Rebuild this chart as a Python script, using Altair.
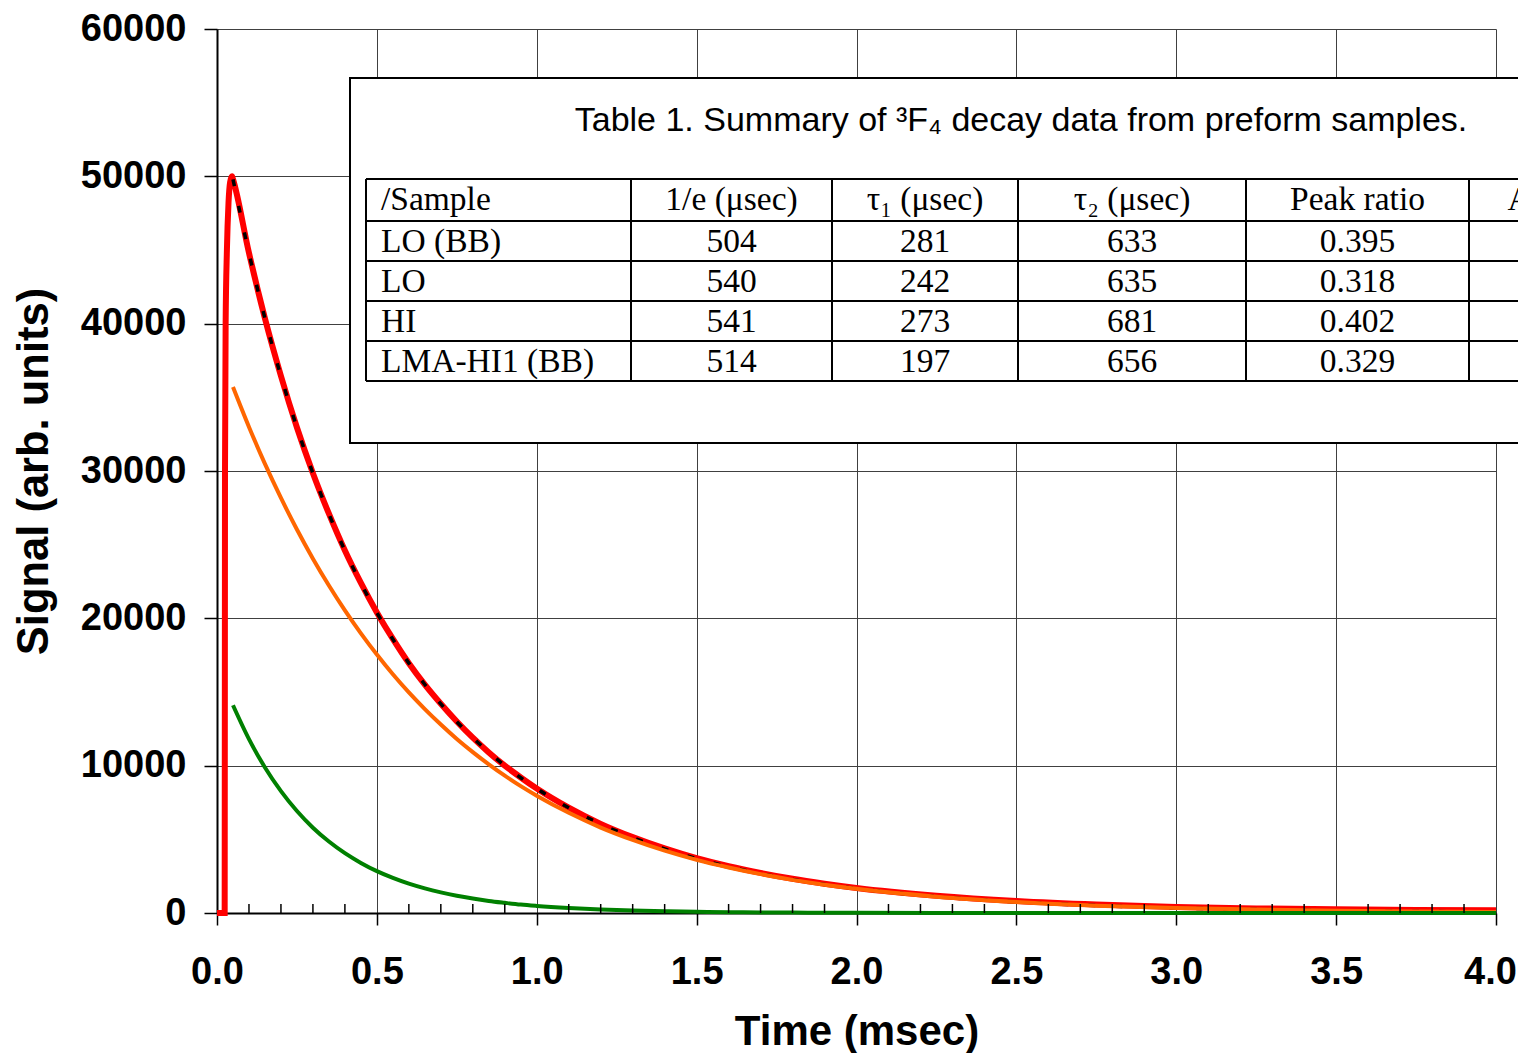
import altair as alt
import pandas as pd

# ---------------- data ----------------
# measured signal (red)
time_data = [0.0, 0.024, 0.025, 0.027, 0.031, 0.036, 0.041, 0.047,
             0.05, 0.10, 0.15, 0.20, 0.25, 0.30, 0.35, 0.40, 0.45, 0.50,
             0.55, 0.60, 0.65, 0.70, 0.75, 0.80, 0.85, 0.90, 0.95, 1.00,
             1.1, 1.2, 1.3, 1.4, 1.5, 1.6, 1.7, 1.8, 1.9, 2.0,
             2.25, 2.5, 2.75, 3.0, 3.25, 3.5, 3.75, 4.0]
signal_data = [0, 0, 30000, 40000, 45000, 48200, 49600, 50000,
               49800, 44800, 40350, 36450, 32950, 29850, 27100, 24600, 22400, 20400,
               18600, 16950, 15500, 14200, 13000, 11900, 10900, 10000, 9200, 8450,
               7150, 6050, 5150, 4380, 3720, 3180, 2720, 2320, 1990, 1700,
               1170, 810, 570, 410, 310, 250, 210, 190]

# fitted curves (black dashed = total, orange = slow, green = fast)
time_fit = [0.05, 0.10, 0.15, 0.20, 0.25, 0.30, 0.35, 0.40, 0.45, 0.50,
            0.55, 0.60, 0.65, 0.70, 0.75, 0.80, 0.85, 0.90, 0.95, 1.00,
            1.1, 1.2, 1.3, 1.4, 1.5, 1.6, 1.7, 1.8, 1.9, 2.0,
            2.25, 2.5, 2.75, 3.0, 3.25, 3.5, 3.75, 4.0]
fit_total = [49800, 44790, 40360, 36440, 32950, 29840, 27080, 24600, 22380, 20380,
             18580, 16960, 15510, 14190, 12980, 11900, 10910, 10010, 9180, 8440,
             7140, 6035, 5125, 4345, 3690, 3147, 2680, 2278, 1939, 1654,
             1116, 753, 501, 340, 230, 155, 105, 70]
fit_slow = [35700, 32990, 30480, 28170, 26030, 24050, 22230, 20540, 18980, 17540,
            16200, 14970, 13840, 12790, 11810, 10920, 10090, 9320, 8610, 7960,
            6800, 5800, 4960, 4230, 3610, 3090, 2640, 2250, 1920, 1640,
            1110, 750, 500, 340, 230, 155, 105, 70]
fit_fast = [14100, 11800, 9880, 8270, 6920, 5790, 4850, 4060, 3400, 2840,
            2380, 1990, 1670, 1400, 1170, 980, 820, 690, 570, 480,
            340, 235, 165, 115, 80, 57, 40, 28, 19, 14,
            6, 3, 1, 0, 0, 0, 0, 0]

x_tick_values = [0.0, 0.5, 1.0, 1.5, 2.0, 2.5, 3.0, 3.5, 4.0]
y_tick_values = [0, 10000, 20000, 30000, 40000, 50000, 60000]
minor_ticks = [0.1, 0.2, 0.3, 0.4, 0.6, 0.7, 0.8, 0.9, 1.1, 1.2, 1.3, 1.4,
               1.6, 1.7, 1.8, 1.9, 2.1, 2.2, 2.3, 2.4, 2.6, 2.7, 2.8, 2.9,
               3.1, 3.2, 3.3, 3.4, 3.6, 3.7, 3.8, 3.9]

# inset table
table_title = "Table 1. Summary of \u00b3F\u2084 decay data from preform samples."
headers = ["/Sample", "1/e (\u03bcsec)", "\u03c4\u2081 (\u03bcsec)", "\u03c4\u2082 (\u03bcsec)",
           "Peak ratio", "Amp. ratio"]
samples = ["LO (BB)", "LO", "HI", "LMA-HI1 (BB)"]
one_e = ["504", "540", "541", "514"]
tau1 = ["281", "242", "273", "197"]
tau2 = ["633", "635", "681", "656"]
peak_ratio = ["0.395", "0.318", "0.402", "0.329"]

# ---------------- layout ----------------
W, H = 1279, 884
X_MAX, Y_MAX = 4.0, 60000
SANS = "Liberation Sans"
SERIF = "Liberation Serif"
XT = "Time (msec)"
YT = "Signal (arb. units)"


# table layout is given in pixels inside the plot area and converted to axis units
def tx(px):
    return px / W * X_MAX


def ty(py):
    return Y_MAX * (1 - py / H)


col_edges = [149, 414, 615, 801, 1029, 1252]
col_centers = [None, 514.5, 708, 915, 1140.5, 1363]
row_lines = [150, 192, 232, 272, 312, 352]
row_baselines = [181, 223, 263, 303, 343]
TABLE_RIGHT = 1400

xs = alt.Scale(domain=[0, X_MAX], nice=False, zero=False)
ys = alt.Scale(domain=[0, Y_MAX], nice=False)

x_axis = alt.Axis(
    values=x_tick_values, format=".1f", grid=True, gridColor="#404040", gridWidth=1,
    tickSize=12, tickColor="black", tickWidth=1.5, domainColor="black", domainWidth=2,
    labelFont=SANS, labelFontSize=38, labelFontWeight="bold", labelColor="black",
    labelPadding=28, labelFlush=False, labelOverlap=False,
    labelOffset={"condition": {"test": "datum.value == 4", "value": -6}, "value": 0},
    titleFont=SANS, titleFontSize=42, titleFontWeight="bold", titleColor="black",
    titleX=W / 2, titleY=131, titleAlign="center", titleBaseline="alphabetic",
)
y_axis = alt.Axis(
    values=y_tick_values, format="d", grid=True, gridColor="#404040", gridWidth=1,
    tickSize=13, tickColor="black", tickWidth=1.5, domainColor="black", domainWidth=2,
    labelFont=SANS, labelFontSize=38, labelFontWeight="bold", labelColor="black",
    labelPadding=18, labelFlush=False, labelOverlap=False,
    titleFont=SANS, titleFontSize=43.5, titleFontWeight="bold", titleColor="black",
    titlePadding=24,
)

df_data = pd.DataFrame({"t": time_data, "v": signal_data})
df_fit = pd.DataFrame({"t": time_fit, "total": fit_total, "slow": fit_slow, "fast": fit_fast})

data_line = alt.Chart(df_data).mark_line(
    color="#FF0000", strokeWidth=6, interpolate="monotone"
).encode(
    x=alt.X("t:Q", scale=xs, axis=x_axis, title=XT),
    y=alt.Y("v:Q", scale=ys, axis=y_axis, title=YT),
)


def fit_line(field, color, width, dash=None):
    kw = dict(color=color, strokeWidth=width, interpolate="monotone")
    if dash:
        kw["strokeDash"] = dash
    return alt.Chart(df_fit).mark_line(**kw).encode(
        x=alt.X("t:Q", scale=xs, title=XT),
        y=alt.Y(f"{field}:Q", scale=ys, title=YT),
    )


total_line = fit_line("total", "black", 3.5, [7, 20])
slow_line = fit_line("slow", "#FF6600", 4)
fast_line = fit_line("fast", "#008000", 4)

minor = alt.Chart(pd.DataFrame({"t": minor_ticks})).mark_rule(
    color="black", strokeWidth=1.5
).encode(
    x=alt.X("t:Q", scale=xs, title=XT),
    y=alt.value(H), y2=alt.value(H - 9),
)


def pos_enc():
    return dict(
        x=alt.X("x:Q", scale=xs, title=XT),
        y=alt.Y("y:Q", scale=ys, title=YT),
    )


# ---- inset table ----
box = alt.Chart(pd.DataFrame({"x": [tx(133)], "x2": [tx(TABLE_RIGHT)],
                              "y": [ty(49)], "y2": [ty(414)]})).mark_rect(
    fill="white", stroke="black", strokeWidth=2
).encode(x2="x2:Q", y2="y2:Q", **pos_enc())

hl = pd.DataFrame({"x": [tx(col_edges[0])] * len(row_lines),
                   "x2": [tx(TABLE_RIGHT)] * len(row_lines),
                   "y": [ty(r) for r in row_lines], "y2": [ty(r) for r in row_lines]})
vl = pd.DataFrame({"x": [tx(c) for c in col_edges], "x2": [tx(c) for c in col_edges],
                   "y": [ty(row_lines[0])] * len(col_edges),
                   "y2": [ty(row_lines[-1])] * len(col_edges)})
grid_lines = alt.Chart(pd.concat([hl, vl], ignore_index=True)).mark_rule(
    color="black", strokeWidth=2
).encode(x2="x2:Q", y2="y2:Q", **pos_enc())

title_txt = alt.Chart(pd.DataFrame({"x": [tx(804)], "y": [ty(102)], "s": [table_title]})).mark_text(
    font=SANS, fontSize=34, color="black", align="center", baseline="alphabetic"
).encode(text="s:N", **pos_enc())

left_rows = [headers[0]] + samples
left_df = pd.DataFrame({"x": [tx(col_edges[0] + 15)] * len(left_rows),
                        "y": [ty(b) for b in row_baselines], "s": left_rows})
left_txt = alt.Chart(left_df).mark_text(
    font=SERIF, fontSize=33.5, color="black", align="left", baseline="alphabetic"
).encode(text="s:N", **pos_enc())

cells = []
columns = [one_e, tau1, tau2, peak_ratio]
for ci, col in enumerate(columns, start=1):
    cells.append((tx(col_centers[ci]), ty(row_baselines[0]), headers[ci]))
    for ri, val in enumerate(col):
        cells.append((tx(col_centers[ci]), ty(row_baselines[ri + 1]), val))
cells.append((tx(col_centers[5]), ty(row_baselines[0]), headers[5]))
center_df = pd.DataFrame(cells, columns=["x", "y", "s"])
center_txt = alt.Chart(center_df).mark_text(
    font=SERIF, fontSize=33.5, color="black", align="center", baseline="alphabetic"
).encode(text="s:N", **pos_enc())

chart = alt.layer(
    data_line, total_line, slow_line, fast_line, minor,
    box, grid_lines, title_txt, left_txt, center_txt,
).properties(
    width=W, height=H,
    padding={"left": 209, "top": 21, "right": 22, "bottom": 140},
    autosize=alt.AutoSizeParams(type="none"),
    background="white",
).configure_view(stroke=None)

chart.save("out.html", embed_options={"renderer": "svg", "actions": False})
